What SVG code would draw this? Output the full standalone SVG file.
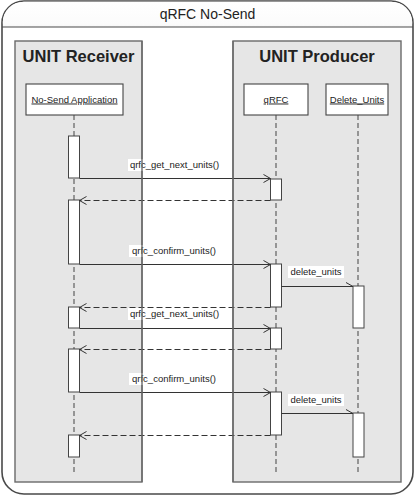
<svg xmlns="http://www.w3.org/2000/svg" width="415" height="496" viewBox="0 0 415 496">
<defs>
<linearGradient id="tg" x1="0" y1="0" x2="0" y2="1">
<stop offset="0" stop-color="#ffffff"/>
<stop offset="0.55" stop-color="#fbfbfb"/>
<stop offset="1" stop-color="#e2e2e2"/>
</linearGradient>
<clipPath id="tc"><rect x="0" y="0" width="415" height="27"/></clipPath>
<marker id="open" markerWidth="10" markerHeight="10" refX="8" refY="5" orient="auto" markerUnits="userSpaceOnUse">
<path d="M1,1 L8,5 L1,9" fill="none" stroke="#333" stroke-width="1"/>
</marker>
<marker id="half" markerWidth="10" markerHeight="10" refX="8" refY="5" orient="auto" markerUnits="userSpaceOnUse">
<path d="M1,1 L8,5" fill="none" stroke="#333" stroke-width="1"/>
</marker>
</defs>
<style>
.frame{fill:#fff;stroke:#4a4a4a;stroke-width:1.6}
.part{fill:#e6e6e6;stroke:#6a6a6a;stroke-width:1.4}
.partline{fill:none;stroke:#6a6a6a;stroke-width:1.4}
.head{fill:#fff;stroke:#444;stroke-width:1.1}
.act{fill:#fff;stroke:#444;stroke-width:1}
.life{stroke:#444;stroke-width:1;stroke-dasharray:5,3;fill:none}
.msg{stroke:#333;stroke-width:1;fill:none}
.ret{stroke:#333;stroke-width:1;fill:none;stroke-dasharray:6,3}
.t{font-family:"Liberation Sans",Arial,sans-serif;fill:#222}
.lbl{font-family:"Liberation Sans",Arial,sans-serif;font-size:9.5px;fill:#222}
.lbg{fill:#fff}
</style>
<g id="frame">
<rect x="2" y="1" width="411" height="493" rx="22" ry="22" class="frame"/>
<rect x="2.8" y="1.8" width="409.4" height="40" rx="21" ry="21" fill="url(#tg)" clip-path="url(#tc)"/>
<line x1="2" y1="27" x2="413" y2="27" stroke="#4a4a4a" stroke-width="1.2"/>
<text x="207.5" y="19" text-anchor="middle" class="t" font-size="14">qRFC No-Send</text>
</g>
<g id="receiver">
<rect x="15" y="41" width="127" height="441" class="part"/>
<text x="78.5" y="62" text-anchor="middle" class="t" font-size="16.5" font-weight="bold">UNIT Receiver</text>
</g>
<g id="producer">
<rect x="233" y="41" width="168" height="441" class="part"/>
<text x="317" y="62" text-anchor="middle" class="t" font-size="16.5" font-weight="bold">UNIT Producer</text>
</g>
<g id="lifeline-app">
<rect x="26" y="84" width="97" height="31" class="head"/>
<text x="74.5" y="102.5" text-anchor="middle" class="lbl" text-decoration="underline">No-Send Application</text>
<line x1="74" y1="115" x2="74" y2="474" class="life"/>
</g>
<g id="lifeline-qrfc">
<rect x="244" y="84" width="64" height="31" class="head"/>
<text x="276" y="102.5" text-anchor="middle" class="lbl" text-decoration="underline">qRFC</text>
<line x1="276" y1="115" x2="276" y2="474" class="life"/>
</g>
<g id="lifeline-delete">
<rect x="326" y="84" width="62" height="31" class="head"/>
<text x="357" y="102.5" text-anchor="middle" class="lbl" text-decoration="underline">Delete_Units</text>
<line x1="358" y1="115" x2="358" y2="474" class="life"/>
</g>
<g id="activations">
<rect x="68.5" y="136" width="11" height="42" class="act"/>
<rect x="68.5" y="200" width="11" height="64" class="act"/>
<rect x="68.5" y="307" width="11" height="21" class="act"/>
<rect x="68.5" y="349" width="11" height="43" class="act"/>
<rect x="68.5" y="435" width="11" height="22" class="act"/>
<rect x="270.5" y="179" width="11" height="21" class="act"/>
<rect x="270.5" y="264" width="11" height="43" class="act"/>
<rect x="270.5" y="328" width="11" height="21" class="act"/>
<rect x="270.5" y="392" width="11" height="43" class="act"/>
<rect x="353" y="286" width="11" height="42" class="act"/>
<rect x="353" y="413" width="11" height="44" class="act"/>
</g>
<g id="connectors">
<rect x="128" y="159" width="93" height="12" class="lbg"/>
<text x="174.5" y="168" text-anchor="middle" class="lbl">qrfc_get_next_units()</text>
<line x1="79.5" y1="178.5" x2="270.5" y2="178.5" class="msg" marker-end="url(#open)"/>
<line x1="270.5" y1="200.5" x2="79.5" y2="200.5" class="ret" marker-end="url(#open)"/>
<rect x="129" y="245" width="90" height="12" class="lbg"/>
<text x="174" y="254" text-anchor="middle" class="lbl">qrfc_confirm_units()</text>
<line x1="79.5" y1="264.5" x2="270.5" y2="264.5" class="msg" marker-end="url(#open)"/>
<rect x="288" y="266" width="56" height="12" class="lbg"/>
<text x="316" y="275" text-anchor="middle" class="lbl">delete_units</text>
<line x1="281.5" y1="286.5" x2="353" y2="286.5" class="msg" marker-end="url(#half)"/>
<line x1="270.5" y1="307.5" x2="79.5" y2="307.5" class="ret" marker-end="url(#open)"/>
<rect x="128" y="308" width="93" height="12" class="lbg"/>
<text x="174.5" y="317" text-anchor="middle" class="lbl">qrfc_get_next_units()</text>
<line x1="79.5" y1="328.5" x2="270.5" y2="328.5" class="msg" marker-end="url(#open)"/>
<line x1="270.5" y1="349.5" x2="79.5" y2="349.5" class="ret" marker-end="url(#open)"/>
<rect x="129" y="373" width="90" height="12" class="lbg"/>
<text x="174" y="382" text-anchor="middle" class="lbl">qrfc_confirm_units()</text>
<line x1="79.5" y1="392.5" x2="270.5" y2="392.5" class="msg" marker-end="url(#open)"/>
<rect x="288" y="394" width="56" height="12" class="lbg"/>
<text x="316" y="403" text-anchor="middle" class="lbl">delete_units</text>
<line x1="281.5" y1="413.5" x2="353" y2="413.5" class="msg" marker-end="url(#half)"/>
<line x1="270.5" y1="435.5" x2="79.5" y2="435.5" class="ret" marker-end="url(#open)"/>
</g>
<g id="part-borders">
<line x1="142" y1="41" x2="142" y2="482" class="partline"/>
<line x1="233" y1="41" x2="233" y2="482" class="partline"/>
</g>
</svg>
